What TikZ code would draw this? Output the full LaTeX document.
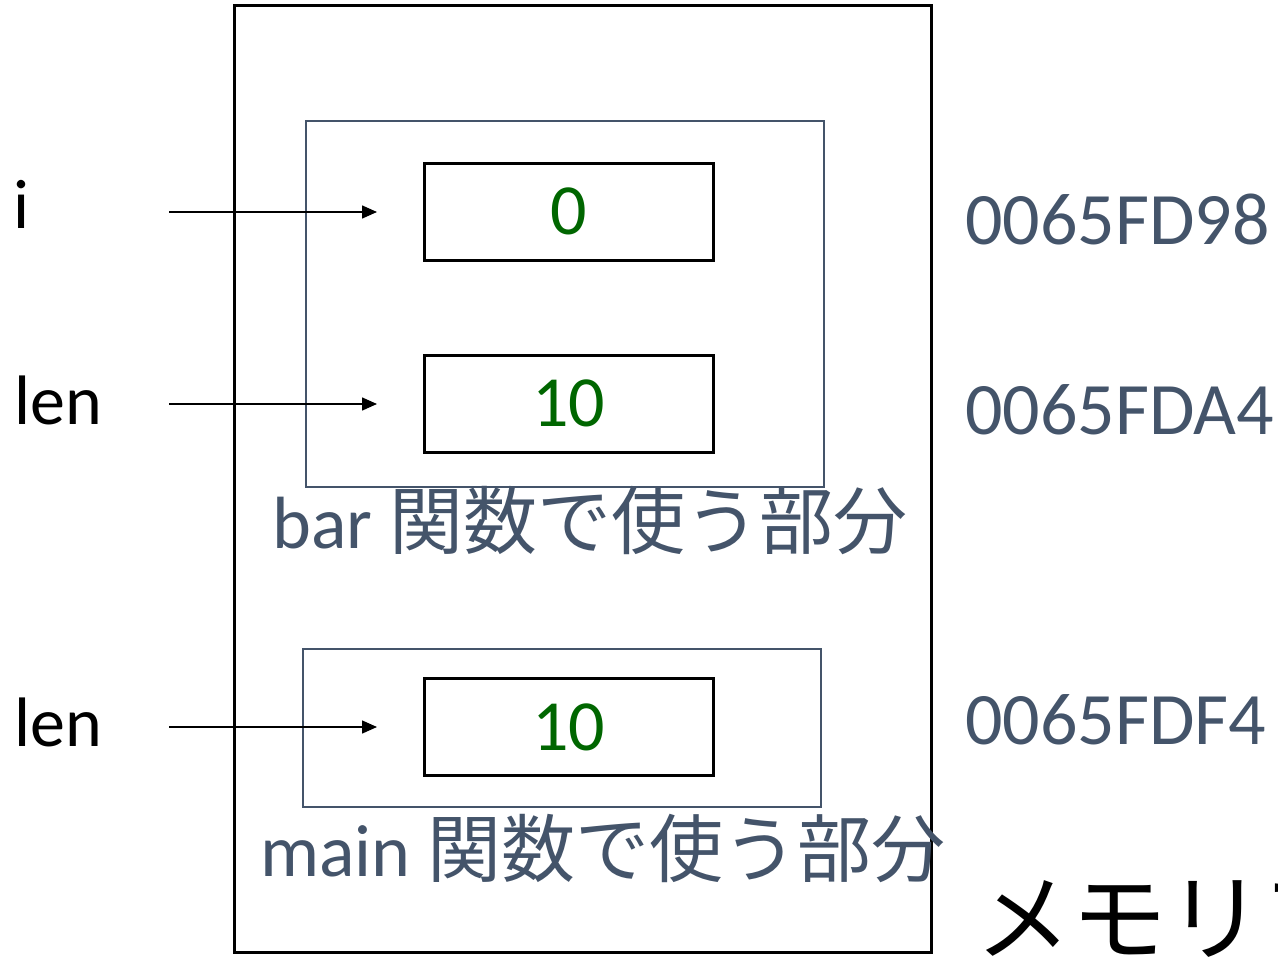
\documentclass[tikz,border=0pt]{standalone}
\usepackage{fontspec}
\setmainfont{Carlito}
\newfontfamily\jp{Noto Sans CJK JP}
\usetikzlibrary{arrows.meta}
\definecolor{slate}{HTML}{44546A}
\definecolor{valgreen}{HTML}{006600}
\tikzset{
  outerbox/.style={draw=black, line width=3pt},
  frame/.style={draw=slate, line width=1.5pt},
  cell/.style={draw=black, line width=3pt, minimum width=289pt, minimum height=97pt, inner sep=0pt, text=valgreen, font=\fontsize{72}{80}\selectfont},
  ptr/.style={-{Triangle[length=15pt,width=13pt]}, line width=1.5pt},
  lbl/.style={anchor=base west, inner sep=0pt, font=\fontsize{70}{80}\selectfont},
  addr/.style={anchor=base west, inner sep=0pt, text=slate, font=\fontsize{74}{80}\selectfont},
  part/.style={anchor=base west, inner sep=0pt, text=slate, font=\fontsize{74}{80}\selectfont},
}
\begin{document}
\begin{tikzpicture}[x=1pt,y=-1pt]
\useasboundingbox (0,0) rectangle (1278,961);
\draw[outerbox] (234,5) rectangle (931,952);
\draw[frame] (306,121) rectangle (824,487);
\draw[frame] (303,649) rectangle (821,807);
\node[cell] (c0) at (568.5,211.5) {0};
\node[cell] (c1) at (568.5,403.5) {10};
\node[cell] (c2) at (568.5,727) {10};
\coordinate (s0) at (169,212);
\coordinate (s1) at (169,404);
\coordinate (s2) at (169,727);
\coordinate (e0) at (377,212);
\coordinate (e1) at (377,404);
\coordinate (e2) at (377,727);
\draw[ptr] (s0) -- (e0);
\draw[ptr] (s1) -- (e1);
\draw[ptr] (s2) -- (e2);
\node[lbl] (li) at (13,228) {i};
\node[lbl] (ll1) at (14,424) {len};
\node[lbl] (ll2) at (14,746) {len};
\node[addr] (a0) at (965,244) {0065FD98};
\node[addr] (a1) at (965,434) {0065FDA4};
\node[addr] (a2) at (965,744) {0065FDF4};
\node[part] (pb) at (272,548) {bar {\jp 関数で使う部分}};
\node[part] (pm) at (260,876) {main {\jp 関数で使う部分}};
\node[anchor=base west, inner sep=0pt, font=\fontsize{96}{110}\jp] (mem) at (975,953) {メモリアドレス};
\end{tikzpicture}
\end{document}
